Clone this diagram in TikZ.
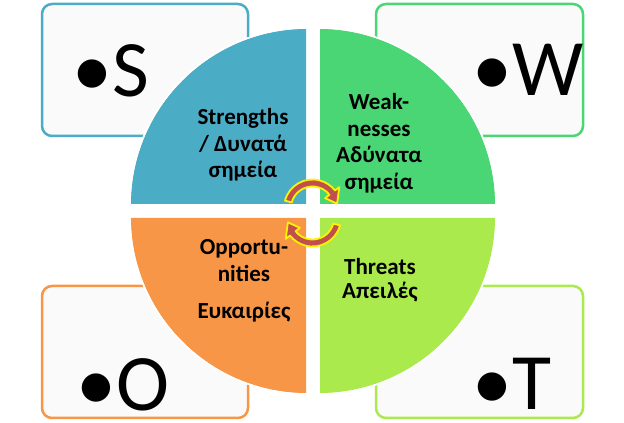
\documentclass[tikz,border=0pt]{standalone}
\usepackage{fontspec}
\setmainfont{Carlito}
\definecolor{swotblue}{RGB}{75,172,198}
\definecolor{swotgreen}{RGB}{74,214,116}
\definecolor{swotorange}{RGB}{247,150,70}
\definecolor{swotlime}{RGB}{170,234,76}
\definecolor{boxfill}{RGB}{250,250,250}
\definecolor{arrowred}{RGB}{192,80,77}

\begin{document}
\begin{tikzpicture}[x=1pt, y=1pt,
    box/.style={line width=2.5pt, rounded corners=10pt, fill=boxfill},
    quarter/.style={draw=white, line width=1.5pt},
    quadtext/.style={font=\fontsize{23}{26.5}\selectfont\bfseries, align=center, inner sep=0pt},
    bigletter/.style={font=\fontsize{80}{80}\selectfont, anchor=base west, inner sep=0pt},
    cyclearrow/.style={fill=arrowred, draw=yellow, line width=1.8pt, line join=round}]
  \useasboundingbox (0,0) rectangle (624,423);
  % the four letter boxes behind the circle
  \draw[box, draw=swotblue]   (42,287) rectangle (248,419);
  \draw[box, draw=swotgreen]  (376,287) rectangle (583,419);
  \draw[box, draw=swotorange] (42,5) rectangle (248,137);
  \draw[box, draw=swotlime]   (376,5) rectangle (583,137);
  \node[bigletter] (s) at (72,326) {•S};
  \node[bigletter] (w) at (472,327) {•W};
  \node[bigletter] (o) at (76,12) {•O};
  \node[bigletter] (t) at (472,13) {•T};
  % the circle, cut in four
  \fill[quarter, fill=swotblue]   (307,218) -- ++(-177,0) arc[start angle=180, end angle=90, radius=177pt] -- cycle;
  \fill[quarter, fill=swotgreen]  (319,218) -- ++(0,177) arc[start angle=90, end angle=0, radius=177pt] -- cycle;
  \fill[quarter, fill=swotorange] (307,206) -- ++(0,-177) arc[start angle=270, end angle=180, radius=177pt] -- cycle;
  \fill[quarter, fill=swotlime]   (319,206) -- ++(177,0) arc[start angle=0, end angle=-90, radius=177pt] -- cycle;
  \draw[quarter] (307,218) -- ++(-177,0) arc[start angle=180, end angle=90, radius=177pt] -- cycle;
  \draw[quarter] (319,218) -- ++(0,177) arc[start angle=90, end angle=0, radius=177pt] -- cycle;
  \draw[quarter] (307,206) -- ++(0,-177) arc[start angle=270, end angle=180, radius=177pt] -- cycle;
  \draw[quarter] (319,206) -- ++(177,0) arc[start angle=0, end angle=-90, radius=177pt] -- cycle;
  \node[quadtext] (strengths) at (243,278) {Strengths\\/ Δυνατά\\σημεία};
  \node[quadtext] (weaknesses) at (379,280) {Weak-\\nesses\\Αδύνατα\\σημεία};
  \node[quadtext] (opportunities) at (244,142) {Opportu-\\nities\\[11pt]Ευκαιρίες};
  \node[quadtext] (threats) at (380,143) {Threats\\[-2pt]Απειλές};
  % the two turning arrows in the middle
  \foreach \rot in {0,180}
    \draw[cyclearrow, shift={(312.5,210)}, rotate=\rot, yshift=5pt]
      (165:28.5pt) arc[start angle=165, end angle=38, radius=28.5pt] -- (38:34pt)
      -- (10:25pt) -- (38:16pt) -- (38:21.5pt)
      arc[start angle=38, end angle=165, radius=21.5pt] -- cycle;
\end{tikzpicture}
\end{document}
